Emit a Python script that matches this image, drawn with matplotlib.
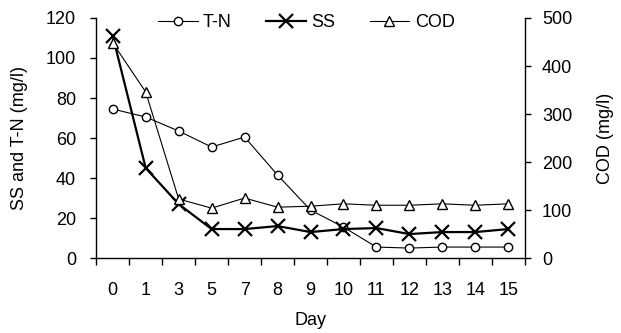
import numpy as np
import matplotlib.pyplot as plt

plt.rcParams['font.family'] = ['Liberation Sans', 'DejaVu Sans']

# data
days = ['0', '1', '3', '5', '7', '8', '9', '10', '11', '12', '13', '14', '15']
tn = [74.5, 70.5, 63.5, 55.5, 60.5, 41.5, 24, 15.5, 5.5, 5, 5.5, 5.5, 5.5]
ss = [111, 45, 27, 14.5, 14.5, 16, 13, 14.5, 15, 12, 13, 13, 14.5]
cod = [448, 346, 123, 104, 125, 106, 108, 113, 110, 110, 113, 110, 113]

x = np.arange(len(days))
fs = 13

fig = plt.figure(figsize=(6.21, 3.33), dpi=100)
ax = fig.add_axes([0.155, 0.225, 0.69, 0.721])
ax2 = ax.twinx()

l1, = ax.plot(x, tn, color='black', lw=0.8, marker='o', ms=6,
              mfc='white', mec='black', mew=1.0, label='T-N')
l2, = ax.plot(x, ss, color='black', lw=1.6, marker='x', ms=10,
              mew=1.6, label='SS')
l3, = ax2.plot(x, cod, color='black', lw=0.8, marker='^', ms=7,
               mfc='white', mec='black', mew=1.0, label='COD')

ax.set_xlim(-0.5, len(days) - 0.5)
ax.set_ylim(0, 120)
ax2.set_ylim(0, 500)
ax.set_yticks(np.arange(0, 121, 20))
ax2.set_yticks(np.arange(0, 501, 100))

ax.set_xticks(x)
ax.set_xticklabels(days)
ax.set_xticks(np.arange(-0.5, len(days), 1), minor=True)
ax.tick_params(axis='x', which='major', length=0, pad=17.5, labelsize=fs)
ax.tick_params(axis='x', which='minor', length=5, width=1, direction='out')
ax.tick_params(axis='y', length=4.5, width=1, direction='out', labelsize=fs, pad=10)
ax2.tick_params(axis='y', length=4.5, width=1, direction='out', labelsize=fs, pad=8)

for a in (ax, ax2):
    a.spines['top'].set_visible(False)
    for s in ('left', 'right', 'bottom'):
        a.spines[s].set_linewidth(1.0)
ax.spines['right'].set_visible(False)
ax2.spines['left'].set_visible(False)
ax2.spines['bottom'].set_visible(False)

ax.set_xlabel('Day', fontsize=fs, labelpad=9)
ax.set_ylabel('SS and T-N (mg/l)', fontsize=fs, labelpad=13)
ax2.set_ylabel('COD (mg/l)', fontsize=fs, labelpad=18)

ax2.legend(handles=[l1, l2, l3], loc='upper center', ncol=3, frameon=False,
           fontsize=fs, handlelength=2.2, columnspacing=1.9,
           bbox_to_anchor=(0.49, 1.085), handletextpad=0.3)

fig.savefig('out.png', dpi=100)
